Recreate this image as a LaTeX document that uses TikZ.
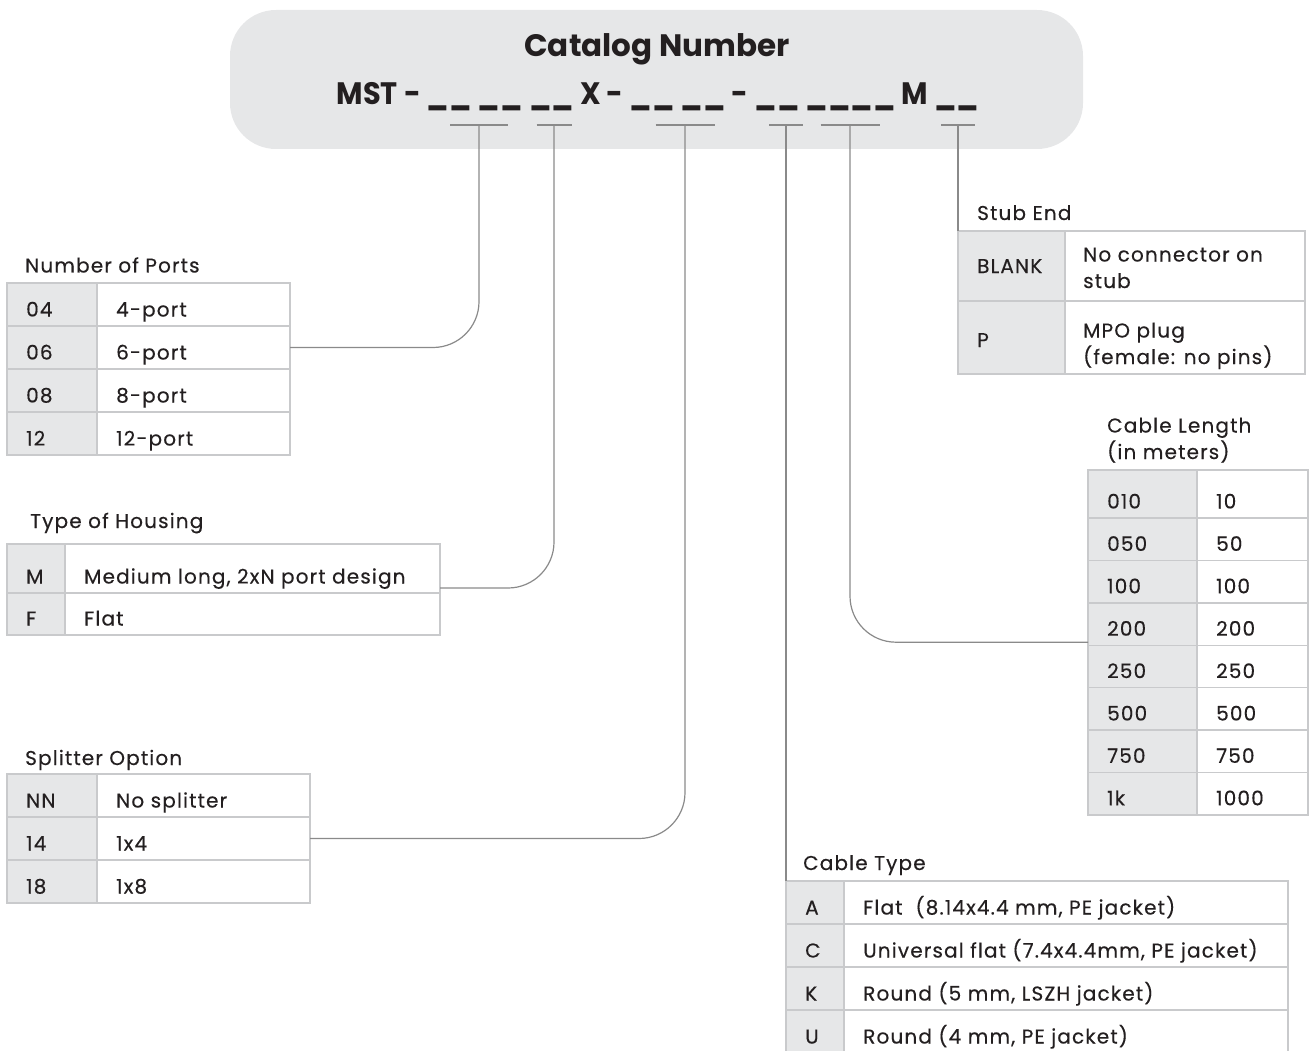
\documentclass[tikz,border=0pt]{standalone}
\usepackage{fontspec}
\setmainfont{Poppins}[LetterSpace=5.8, UprightFeatures={FakeBold=0.35}]
\newfontfamily\hdrfam{Poppins}
\definecolor{keyfill}{HTML}{E6E7E8}
\definecolor{cellline}{HTML}{C9CACC}
\definecolor{connline}{HTML}{8A8A8A}
\definecolor{ink}{HTML}{231F20}
\newcommand\bodyfont{\fontsize{20}{26.5}\selectfont}
% #1 key node, #2 value node, #3 position, #4 key width, #5 value width, #6 height, #7 key text, #8 value text
\newcommand\mkrow[8]{%
  \node[kc={#4}{#6}] (#1) at (#3) {};
  \node[vc={#5}{#6}] (#2) at (#1.north east) {};
  \node[ct] (#1t) at (#1.south west) {#7};
  \node[ct] (#2t) at (#2.south west) {#8};
}
\begin{document}
\begin{tikzpicture}[x=1pt,y=-1pt,
  kc/.style 2 args={draw=cellline, line width=1.4pt, fill=keyfill, anchor=north west, inner sep=0pt, outer sep=0pt, minimum width=#1, minimum height=#2},
  vc/.style 2 args={draw=cellline, line width=1.4pt, fill=white, anchor=north west, inner sep=0pt, outer sep=0pt, minimum width=#1, minimum height=#2},
  ct/.style={anchor=base west, inner sep=0pt, xshift=19pt, yshift=9.5pt, font=\bodyfont, text=ink},
  ttl/.style={anchor=base west, inner sep=0pt, font=\bodyfont, text=ink, align=left},
  conn/.style={draw=connline, line width=1.2pt, rounded corners=46pt},
  tick/.style={draw=connline, line width=1.2pt},
  hdr/.style={anchor=base, inner sep=0pt, text=ink, font=\hdrfam\bfseries\fontsize{31}{36}\selectfont}
]
\useasboundingbox (0,0) rectangle (1309,1051);

% header box
\node[fill=keyfill, rounded corners=46pt, minimum width=853, minimum height=139, anchor=north west, inner sep=0pt, outer sep=0pt] (hbox) at (230,10) {};
\node[hdr] (htitle) at (657,57) {Catalog Number};
\node[hdr] (hcode) at (658,105) {\scalebox{0.93}[1]{MST - \_\_ \_\_ \_\_ X - \_\_ \_\_ - \_\_ \_\_\_\_ M \_\_}};

% underline marks and their coordinates
\coordinate (s1) at (479,125);
\coordinate (s2) at (554,125);
\coordinate (s3) at (685,125);
\coordinate (s4) at (786,125);
\coordinate (s5) at (850,125);
\coordinate (s6) at (958,125);
\draw[tick] ([xshift=-29pt]s1) -- ([xshift=29pt]s1);
\draw[tick] ([xshift=-17.5pt]s2) -- ([xshift=17.5pt]s2);
\draw[tick] ([xshift=-29.5pt]s3) -- ([xshift=29.5pt]s3);
\draw[tick] ([xshift=-17pt]s4) -- ([xshift=17pt]s4);
\draw[tick] ([xshift=-29.5pt]s5) -- ([xshift=29.5pt]s5);
\draw[tick] ([xshift=-17pt]s6) -- ([xshift=17pt]s6);

% Number of Ports
\node[ttl] (tports) at (25,272.5) {Number of Ports};
\mkrow{pk1}{pv1}{7,283}{90}{193}{43}{04}{4-port}
\mkrow{pk2}{pv2}{pk1.south west}{90}{193}{43}{06}{6-port}
\mkrow{pk3}{pv3}{pk2.south west}{90}{193}{43}{08}{8-port}
\mkrow{pk4}{pv4}{pk3.south west}{90}{193}{43}{12}{12-port}

% Type of Housing
\node[ttl] (thous) at (30,528) {Type of Housing};
\mkrow{hk1}{hv1}{7,544}{58}{375}{49}{M}{Medium long, 2xN port design}
\mkrow{hk2}{hv2}{hk1.south west}{58}{375}{42}{F}{Flat}

% Splitter Option
\node[ttl] (tsplit) at (25,765) {Splitter Option};
\mkrow{sk1}{sv1}{7,774}{90}{213}{43}{NN}{No splitter}
\mkrow{sk2}{sv2}{sk1.south west}{90}{213}{43}{14}{1x4}
\mkrow{sk3}{sv3}{sk2.south west}{90}{213}{43}{18}{1x8}

% Stub End
\node[ttl] (tstub) at (977,220) {Stub End};
\node[kc={107}{70}] (bk1) at (958,231) {};
\node[vc={240}{70}] (bv1) at (bk1.north east) {};
\node[kc={107}{73}] (bk2) at (bk1.south west) {};
\node[vc={240}{73}] (bv2) at (bk2.north east) {};
\node[ttl] (bk1t) at (977,273) {BLANK};
\node[ttl] (bv1t) at (1083,288) {No connector on\\stub};
\node[ttl] (bk2t) at (977,347) {P};
\node[ttl] (bv2t) at (1083,364) {MPO plug\\(female: no pins)};

% Cable Length
\node[ttl] (tlen) at (1107,459) {Cable Length\\(in meters)};
\mkrow{lk1}{lv1}{1088,470}{109}{111}{48}{010}{10}
\mkrow{lk2}{lv2}{lk1.south west}{109}{111}{42.4}{050}{50}
\mkrow{lk3}{lv3}{lk2.south west}{109}{111}{42.4}{100}{100}
\mkrow{lk4}{lv4}{lk3.south west}{109}{111}{42.4}{200}{200}
\mkrow{lk5}{lv5}{lk4.south west}{109}{111}{42.4}{250}{250}
\mkrow{lk6}{lv6}{lk5.south west}{109}{111}{42.4}{500}{500}
\mkrow{lk7}{lv7}{lk6.south west}{109}{111}{42.4}{750}{750}
\mkrow{lk8}{lv8}{lk7.south west}{109}{111}{42.4}{1k}{1000}

% Cable Type
\node[ttl] (ttype) at (803,870) {Cable Type};
\mkrow{ck1}{cv1}{786,881}{58}{444}{43}{A}{Flat~ (8.14x4.4 mm, PE jacket)}
\mkrow{ck2}{cv2}{ck1.south west}{58}{444}{43}{C}{Universal flat (7.4x4.4mm, PE jacket)}
\mkrow{ck3}{cv3}{ck2.south west}{58}{444}{43}{K}{Round (5 mm, LSZH jacket)}
\mkrow{ck4}{cv4}{ck3.south west}{58}{444}{43}{U}{Round (4 mm, PE jacket)}

% connectors
\draw[conn] (s1) |- (pv2.east);
\draw[conn] (s2) |- ([yshift=5pt]hv1.south east);
\draw[conn] (s3) |- (sv2.east);
\draw[conn] (s4) -- (ck1.north west);
\draw[conn] (s5) |- ([yshift=3pt]lk4.south west);
\draw[conn] (s6) -- (bk1.north west);
\end{tikzpicture}
\end{document}
